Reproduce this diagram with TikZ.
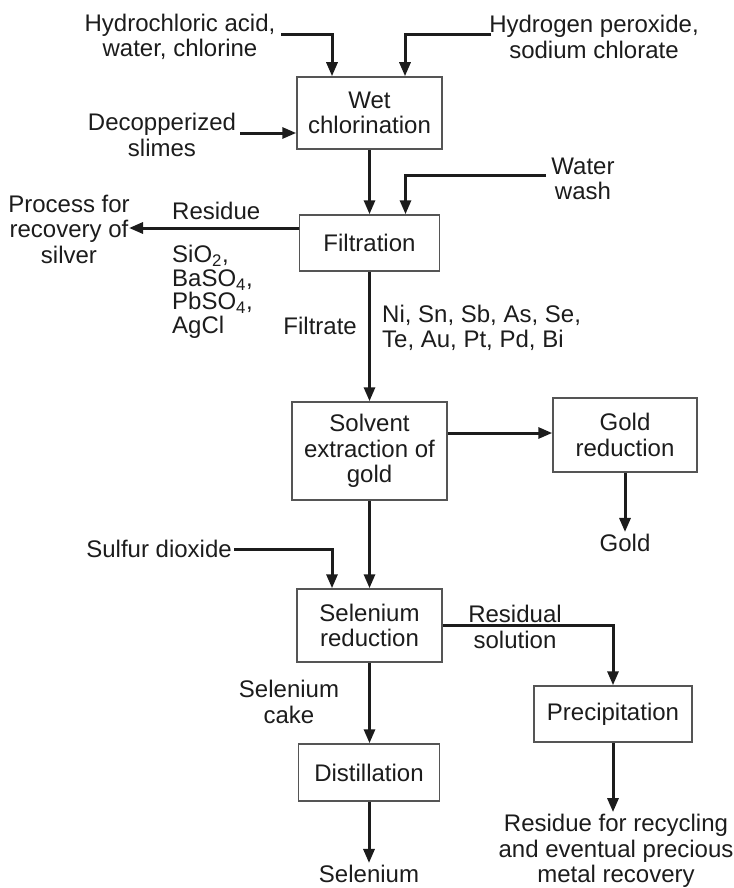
\documentclass[tikz,border=0pt]{standalone}
\usepackage{fontspec}
\setmainfont{Liberation Sans}
\usetikzlibrary{arrows.meta,calc}
\lineskiplimit=-50pt
\definecolor{ink}{HTML}{1C1C1C}
\definecolor{boxline}{HTML}{555555}
\tikzset{
  procbox/.style={draw=boxline, line width=1.5pt, fill=white, align=center, inner sep=0pt, text=ink},
  lbl/.style={align=center, inner sep=2pt, text=ink},
  conn/.style={draw=ink, line width=3pt, -{Triangle[length=14pt,width=11pt]}},
  plain/.style={draw=ink, line width=3pt}
}
\begin{document}
\begin{tikzpicture}[x=1pt,y=-1pt, font=\fontsize{24}{25.5}\selectfont]
\useasboundingbox (0,0) rectangle (733,888);

% process boxes
\node[procbox, minimum width=145pt, minimum height=72pt] (wet) at (369.5,113) {Wet\\chlorination};
\node[procbox, minimum width=140pt, minimum height=56pt] (filt) at (369.5,243) {Filtration};
\node[procbox, minimum width=155pt, minimum height=98pt] (solv) at (369.5,451) {Solvent\\extraction of\\gold};
\node[procbox, minimum width=144pt, minimum height=74pt] (goldred) at (625,435) {Gold\\reduction};
\node[procbox, minimum width=145pt, minimum height=73pt] (selred) at (369.5,625.5) {Selenium\\reduction};
\node[procbox, minimum width=158pt, minimum height=56pt] (precip) at (613,714) {Precipitation};
\node[procbox, minimum width=141pt, minimum height=57pt] (distil) at (369,772.5) {Distillation};

% labels
\node[lbl] (hcl) at (180,37) {Hydrochloric acid,\\water, chlorine};
\node[lbl] (hperox) at (594,37) {Hydrogen peroxide,\\sodium chlorate};
\node[lbl] (decop) at (162,135) {Decopperized\\slimes};
\node[lbl] (wash) at (583,179) {Water\\wash};
\node[lbl] (silver) at (69,229) {Process for\\recovery of\\silver};
\node[lbl, anchor=west, inner sep=0pt] (resid) at (172,211) {Residue};
\node[lbl, anchor=west, align=left, inner sep=0pt, font=\fontsize{24}{23.5}\selectfont] (cmpd) at (172,292) {SiO\textsubscript{2},\\BaSO\textsubscript{4},\\PbSO\textsubscript{4},\\AgCl};
\node[lbl, anchor=east, inner sep=0pt] (filtrate) at (357,326) {Filtrate};
\node[lbl, anchor=west, align=left, inner sep=0pt] (elem) at (382,328) {Ni, Sn, Sb, As, Se,\\Te, Au, Pt, Pd, Bi};
\node[lbl] (gold) at (625,543) {Gold};
\node[lbl, anchor=east] (sulfur) at (234,549) {Sulfur dioxide};
\node[lbl] (residsol) at (515,627) {Residual\\solution};
\node[lbl] (selcake) at (289,702) {Selenium\\cake};
\node[lbl] (selen) at (369,874) {Selenium};
\node[lbl] (recyc) at (616,851) {Residue for recycling\\and eventual precious\\metal recovery};

% start coordinates of free ends
\coordinate (hclS) at (281,35);
\coordinate (hpS) at (491,35);
\coordinate (decS) at (240,133);
\coordinate (washS) at (546,175);
\coordinate (silverT) at (129,228);

% connectors
\draw[conn] (hclS) -| ([xshift=-37.5pt]wet.north);
\draw[conn] (hpS) -| ([xshift=35.5pt]wet.north);
\draw[conn] (decS) -- (decS -| wet.west);
\draw[conn] (wet.south) -- (wet.south |- filt.north);
\draw[conn] (washS) -| ([xshift=36pt]filt.north);
\draw[conn] (silverT -| filt.west) -- (silverT);
\draw[conn] (filt.south) -- (filt.south |- solv.north);
\draw[conn] ([yshift=18pt]solv.east) -- ([yshift=18pt]solv.east -| goldred.west);
\draw[conn] (goldred.south) -- (goldred.south |- gold.north);
\draw[conn] (solv.south) -- (solv.south |- selred.north);
\draw[conn] (sulfur.east) -| ([xshift=-37.5pt]selred.north);
\draw[conn] (selred.east) -| (precip.north);
\draw[conn] (selred.south) -- (selred.south |- distil.north);
\draw[conn] (distil.south) -- (distil.south |- selen.north);
\draw[conn] (precip.south) -- (precip.south |- recyc.north);
\end{tikzpicture}
\end{document}
